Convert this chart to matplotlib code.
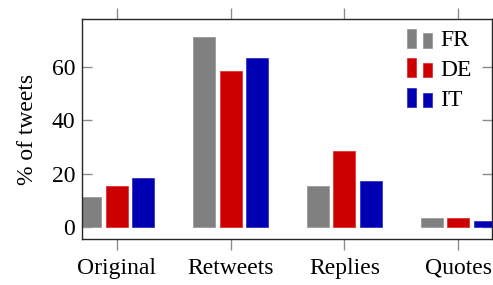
import matplotlib
matplotlib.use("Agg")
import matplotlib.pyplot as plt
import numpy as np
from matplotlib.patches import Rectangle
from matplotlib.legend_handler import HandlerBase

categories = ["Original", "Retweets", "Replies", "Quotes"]
series_names = ["FR", "DE", "IT"]
fr_values = [11.2, 71.3, 15.4, 3.4]
de_values = [15.4, 58.4, 28.4, 3.4]
it_values = [18.3, 63.4, 17.4, 2.4]
ytick_values = [0, 20, 40, 60]

colors = ["#808080", "#cc0000", "#0000b3"]
edge_colors = ["#9a9a9a", "#e03333", "#3333c8"]

plt.rcParams["font.family"] = ["Liberation Serif", "DejaVu Serif"]

fig = plt.figure(figsize=(4.93, 2.85), dpi=100)
ax = fig.add_axes([82 / 493, 1 - 239 / 285, 410 / 493, 220 / 285])

x = np.arange(len(categories))
offset = 0.2335
width = 0.193
handles = []
for i, (vals, name) in enumerate(zip([fr_values, de_values, it_values], series_names)):
    b = ax.bar(x + (i - 1) * offset, vals, width, color=colors[i],
               edgecolor=edge_colors[i], linewidth=0.6, label=name, zorder=2)
    handles.append(b)

ax.set_xlim(-0.305, 3.296)
ax.set_ylim(-4.5, 78)
ax.set_xticks(x)
ax.set_xticklabels(categories, fontsize=17)
ax.set_yticks(ytick_values)
ax.set_yticklabels([str(v) for v in ytick_values], fontsize=17)
ax.tick_params(axis="x", direction="out", length=8, width=1, color="#8c8c8c",
               top=True, bottom=True, pad=5.5)
ax.tick_params(axis="y", direction="in", length=7.5, width=1, color="#8c8c8c",
               left=True, right=True, pad=5)
for s in ax.spines.values():
    s.set_color("#262626")
    s.set_linewidth(1.0)
ax.set_ylabel("% of tweets", fontsize=17, labelpad=10)


class TwoBarHandler(HandlerBase):
    def create_artists(self, legend, orig_handle, xdescent, ydescent,
                       width, height, fontsize, trans):
        patch = orig_handle.patches[0] if hasattr(orig_handle, "patches") else orig_handle
        fc = patch.get_facecolor()
        ec = patch.get_edgecolor()
        w = width * 0.36
        r1 = Rectangle((-xdescent, -ydescent), w, height, facecolor=fc,
                       edgecolor=ec, linewidth=0.6, transform=trans)
        r2 = Rectangle((-xdescent + width - w, -ydescent), w, height * 0.75,
                       facecolor=fc, edgecolor=ec, linewidth=0.6, transform=trans)
        return [r1, r2]


leg = ax.legend(handles, series_names, loc="upper right", fontsize=17,
                frameon=False, handler_map={type(handles[0]): TwoBarHandler()},
                handlelength=1.06, handleheight=0.85, handletextpad=0.35,
                labelspacing=0.3, borderaxespad=0.3, borderpad=0.3,
                bbox_to_anchor=(0.985, 1.02))

fig.savefig("out.png", dpi=100)
